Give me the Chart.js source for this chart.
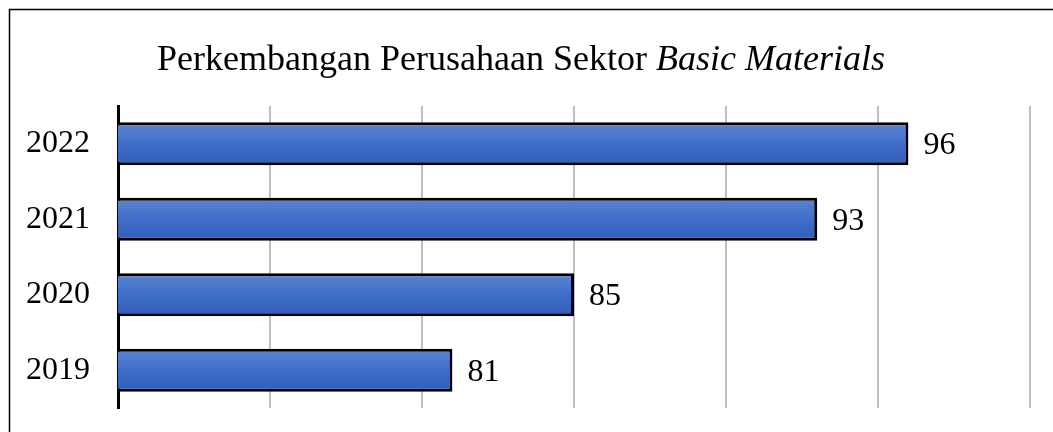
<!DOCTYPE html>
<html lang="id">
<head>
  <meta charset="UTF-8">
  <title>Perkembangan Perusahaan Sektor Basic Materials</title>
  <script src="https://cdn.jsdelivr.net/npm/chart.js"></script>
  <style>
    html, body { margin: 0; padding: 0; background: #fff; }
    #wrap { width: 1053px; height: 432px; position: relative; }
  </style>
</head>
<body>
  <div id="wrap"><canvas id="grafik"></canvas></div>

  <script>
    const tahun = ['2022', '2021', '2020', '2019'];
    const jumlah = [96, 93, 85, 81];
    const sumbuMin = 70;
    const sumbuMax = 100;
    const langkah = 5;

    const judulBiasa = 'Perkembangan Perusahaan Sektor ';
    const judulMiring = 'Basic Materials';

    const fontSerif = '"Liberation Serif", "Times New Roman", serif';
    const lebarBatang = 0.57;

    // bingkai luar + judul (sebagian miring)
    const bingkaiJudul = {
      id: 'bingkaiJudul',
      beforeDraw(chart) {
        const c = chart.ctx;
        c.save();
        c.fillStyle = '#fff';
        c.fillRect(0, 0, chart.width, chart.height);
        c.strokeStyle = '#000';
        c.lineWidth = 1.5;
        c.beginPath();
        c.moveTo(9.5, chart.height);
        c.lineTo(9.5, 9.5);
        c.lineTo(chart.width, 9.5);
        c.stroke();

        c.fillStyle = '#000';
        c.textBaseline = 'alphabetic';
        c.font = '36px ' + fontSerif;
        const w1 = c.measureText(judulBiasa).width;
        c.font = 'italic 36px ' + fontSerif;
        const w2 = c.measureText(judulMiring).width;
        let x = 521 - (w1 + w2) / 2;
        c.font = '36px ' + fontSerif;
        c.fillText(judulBiasa, x, 70);
        c.font = 'italic 36px ' + fontSerif;
        c.fillText(judulMiring, x + w1, 70);
        c.restore();
      }
    };

    // angka di ujung batang
    const labelNilai = {
      id: 'labelNilai',
      afterDatasetsDraw(chart) {
        const c = chart.ctx;
        const meta = chart.getDatasetMeta(0);
        c.save();
        c.fillStyle = '#000';
        c.font = '32px ' + fontSerif;
        c.textAlign = 'left';
        c.textBaseline = 'middle';
        meta.data.forEach((bar, i) => {
          c.fillText(String(jumlah[i]), bar.x + 15, bar.y + 2);
        });
        c.restore();
      }
    };

    function warnaBatang(ctx) {
      const chart = ctx.chart;
      const y = chart.scales.y;
      if (!y || ctx.dataIndex === undefined) return '#4472C4';
      const tengah = y.getPixelForValue(ctx.dataIndex);
      const jarak = Math.abs(y.getPixelForValue(1) - y.getPixelForValue(0));
      if (!isFinite(tengah) || !isFinite(jarak)) return '#4472C4';
      const setengah = jarak * lebarBatang / 2;
      const g = chart.ctx.createLinearGradient(0, tengah - setengah, 0, tengah + setengah);
      g.addColorStop(0, '#5D84D0');
      g.addColorStop(0.5, '#3F6EC9');
      g.addColorStop(1, '#2F5DB8');
      return g;
    }

    new Chart(document.getElementById('grafik'), {
      type: 'bar',
      data: {
        labels: tahun,
        datasets: [{
          data: jumlah,
          backgroundColor: warnaBatang,
          borderColor: '#000',
          borderWidth: 3,
          borderSkipped: 'start',
          categoryPercentage: 1,
          barPercentage: lebarBatang
        }]
      },
      plugins: [bingkaiJudul, labelNilai],
      options: {
        indexAxis: 'y',
        responsive: true,
        maintainAspectRatio: false,
        animation: false,
        layout: { padding: { top: 106, bottom: 24, left: 0, right: 23 } },
        plugins: {
          legend: { display: false },
          tooltip: { enabled: false }
        },
        scales: {
          x: {
            min: sumbuMin,
            max: sumbuMax,
            ticks: { display: false, stepSize: langkah },
            grid: { color: '#BFBFBF', lineWidth: 2, drawTicks: false },
            border: { display: false },
            afterFit(s) { s.height = 0; }
          },
          y: {
            ticks: {
              color: '#000',
              padding: 28,
              font: { family: fontSerif, size: 32 }
            },
            grid: { display: false, drawTicks: false },
            border: { display: true, color: '#000', width: 3 },
            afterFit(s) {
              s.width = 118;
              s.paddingTop = 0;
              s.paddingBottom = 0;
            }
          }
        }
      }
    });
  </script>
</body>
</html>
